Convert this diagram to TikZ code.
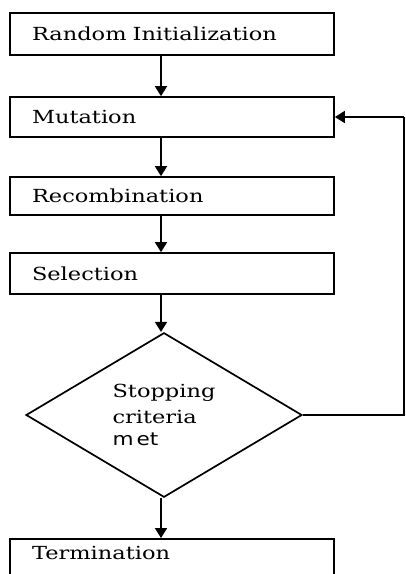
\documentclass[tikz,border=0pt]{standalone}
\usepackage{fontspec}
\setmainfont[FakeStretch=1.25]{DejaVu Serif}
\setsansfont[FakeStretch=1.2]{DejaVu Sans}
\usetikzlibrary{arrows.meta,shapes.geometric}
\begin{document}
\begin{tikzpicture}[x=1pt,y=-1pt,
  boxnode/.style={draw,line width=1.7pt,text width=280pt,align=left,inner xsep=22pt,inner ysep=0pt,font=\fontsize{18}{20}\selectfont},
  arr/.style={line width=1.7pt,-{Triangle[width=12pt,length=10pt]}},
  ln/.style={line width=1.7pt}]
\path[use as bounding box,clip] (0,0) rectangle (406,574);
\fill[white] (0,0) rectangle (406,574);
\node[boxnode,minimum height=42pt] (b1) at (172,34) {Random Initialization};
\node[boxnode,minimum height=40pt] (b2) at (172,117) {Mutation};
\node[boxnode,minimum height=38pt] (b3) at (172,196) {Recombination};
\node[boxnode,minimum height=41pt] (b4) at (172,273.5) {Selection};
\node[draw,line width=1.7pt,diamond,minimum width=276pt,minimum height=161pt,inner sep=0pt,align=left,font=\fontsize{18}{22.5}\selectfont] (d) at (164,415) {\raisebox{3pt}{Stopping}\\criteria\\{\sffamily m\,et}};
\node[boxnode,anchor=north,text height=13pt,text depth=40pt,inner ysep=8pt] (b5) at (172,538) {Termination};
\coordinate (a) at (161,0);
\coordinate (r) at (404,0);
\draw[arr] (b1.south -| a) -- (b2.north -| a);
\draw[arr] (b2.south -| a) -- (b3.north -| a);
\draw[arr] (b3.south -| a) -- (b4.north -| a);
\draw[arr] (b4.south -| a) -- (d.north -| a);
\draw[arr] (d.south -| a) -- (b5.north -| a);
\draw[ln] (d.east) -- (d.east -| r) -- (b2.east -| r);
\draw[arr] (b2.east -| r) -- (b2.east);
\end{tikzpicture}
\end{document}
